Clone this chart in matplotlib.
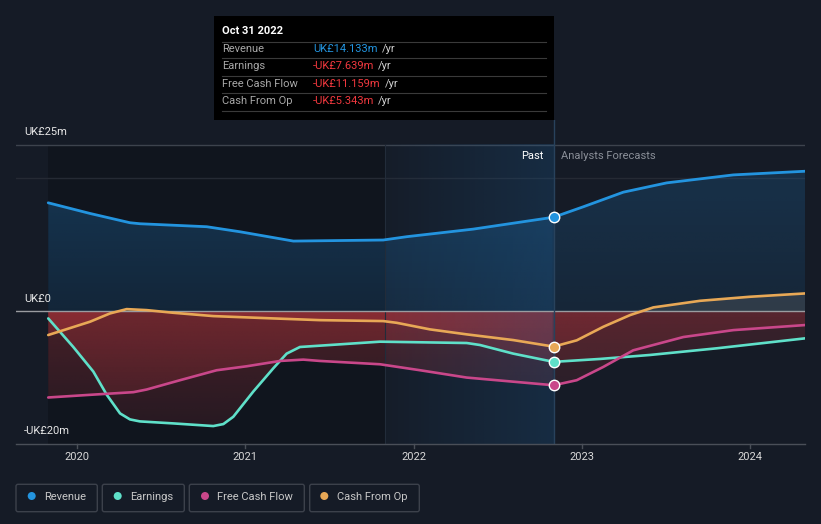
import numpy as np
import matplotlib
matplotlib.use('Agg')
import matplotlib.pyplot as plt
from matplotlib.colors import to_rgb
from matplotlib.patches import FancyBboxPatch, Rectangle, Circle

plt.rcParams['font.family'] = ['Roboto', 'DejaVu Sans']

# ---------------- data (UK£ m, decimal years) ----------------
rev_x = [2019.829, 2020.077, 2020.315, 2020.374, 2020.771, 2020.969, 2021.286, 2021.820,
         2021.960, 2022.355, 2022.833, 2023.009, 2023.247, 2023.505, 2023.901, 2024.327]
rev_y = [16.3, 14.7, 13.3, 13.15, 12.7, 11.94, 10.54, 10.7,
         11.2, 12.34, 14.133, 15.7, 17.9, 19.3, 20.5, 21.05]

earn_x = [2019.829, 2019.978, 2020.097, 2020.177, 2020.256, 2020.315, 2020.374, 2020.572,
          2020.810, 2020.870, 2020.929, 2021.048, 2021.167, 2021.246, 2021.325, 2021.504,
          2021.801, 2022.316, 2022.395, 2022.593, 2022.833, 2023.108, 2023.406, 2023.802, 2024.327]
earn_y = [-1.1, -5.4, -9.1, -12.6, -15.4, -16.3, -16.6, -16.9,
          -17.3, -17.0, -15.9, -12.1, -8.6, -6.4, -5.4, -5.1,
          -4.6, -4.8, -5.1, -6.4, -7.639, -7.2, -6.6, -5.6, -4.1]

fcf_x = [2019.829, 2020.077, 2020.335, 2020.414, 2020.612, 2020.830, 2021.009, 2021.207,
         2021.345, 2021.444, 2021.801, 2022.039, 2022.316, 2022.833, 2022.970, 2023.128,
         2023.306, 2023.604, 2023.901, 2024.327]
fcf_y = [-13.0, -12.6, -12.2, -11.8, -10.4, -8.9, -8.3, -7.5,
         -7.3, -7.5, -8.0, -8.9, -10.0, -11.159, -10.4, -8.4,
         -5.9, -3.9, -2.86, -2.1]

cfo_x = [2019.829, 2020.077, 2020.196, 2020.295, 2020.414, 2020.572, 2020.810, 2021.167,
         2021.444, 2021.820, 2021.900, 2022.098, 2022.316, 2022.593, 2022.833, 2022.970,
         2023.128, 2023.287, 2023.426, 2023.703, 2024.000, 2024.327]
cfo_y = [-3.6, -1.6, -0.35, 0.3, 0.15, -0.25, -0.75, -1.1,
         -1.36, -1.5, -1.76, -2.75, -3.5, -4.36, -5.343, -4.4,
         -2.36, -0.6, 0.56, 1.55, 2.16, 2.66]

past_date = 2022.833
series = [
    ("Revenue", rev_x, rev_y, "#2394df"),
    ("Earnings", earn_x, earn_y, "#5fe0c9"),
    ("Free Cash Flow", fcf_x, fcf_y, "#c9478a"),
    ("Cash From Op", cfo_x, cfo_y, "#e8a856"),
]
tooltip_title = "Oct 31 2022"
tooltip_vals = ["UK£14.133m", "-UK£7.639m", "-UK£11.159m", "-UK£5.343m"]
year_ticks = [2020, 2021, 2022, 2023, 2024]
y_labels = [(25, "UK£25m"), (0, "UK£0"), (-20, "-UK£20m")]

# ---------------- layout ----------------
W, H = 821, 524
BG = "#151b26"
FS = 8
fig = plt.figure(figsize=(W / 100, H / 100), dpi=100)
fig.patch.set_facecolor(BG)

def fx(x): return x / W
def fy(y): return 1 - y / H

pxm = (444 - 145) / 45.0
ytop = 25 + (145 - 120) / pxm
pxy = (750 - 77) / 4.0
x0 = 2020 - (77 - 16) / pxy
x1 = 2020 + (805 - 77) / pxy

ax = fig.add_axes([fx(16), fy(444), fx(805) - fx(16), fy(120) - fy(444)])
ax.set_facecolor(BG)
ax.set_xlim(x0, x1)
ax.set_ylim(-20, ytop)
for s in ax.spines.values():
    s.set_visible(False)
ax.set_xticks([]); ax.set_yticks([])

band_start = past_date - 1.0
# darker past region (below the top gridline)
ax.fill_between([rev_x[0], band_start], -20, 25, color="black", alpha=0.2, lw=0, zorder=0)

# grid lines
ax.axhline(25, color="#3d434d", lw=1, zorder=1)
ax.axhline(20, color="#252a34", lw=1, zorder=1)

nx, ny = 400, 300
gx = np.linspace(x0, x1, nx)
past_factor = np.where(gx <= past_date, 1.0, 0.7)

# Revenue positive fill
poly = ax.fill_between(rev_x, 0, rev_y, facecolor='none', edgecolor='none')
gy = np.linspace(0, ytop, ny)
img = np.zeros((ny, nx, 4))
img[..., :3] = to_rgb("#1f6aa5")
a = np.clip(0.2 + 0.15 * gy / 16.0, 0, 0.36)
img[..., 3] = a[:, None] * np.where(gx <= past_date, 1.0, 0.72)[None, :]
im = ax.imshow(img, extent=[x0, x1, 0, ytop], aspect='auto', origin='lower', zorder=2,
               interpolation='bilinear')
im.set_clip_path(poly.get_paths()[0], ax.transData)

# negative / positive fills for other series
gyn = np.linspace(-20, 0, ny)
an = 0.1 + 0.2 * (gyn + 20) / 20.0
for name, xs, ys, col in series[1:]:
    yarr = np.asarray(ys)
    pneg = ax.fill_between(xs, 0, np.minimum(yarr, 0), facecolor='none', edgecolor='none')
    img = np.zeros((ny, nx, 4))
    img[..., :3] = to_rgb("#c8393f")
    img[..., 3] = an[:, None] * past_factor[None, :]
    im = ax.imshow(img, extent=[x0, x1, -20, 0], aspect='auto', origin='lower', zorder=2,
                   interpolation='bilinear')
    im.set_clip_path(pneg.get_paths()[0], ax.transData)
    if (yarr > 0).any():
        ax.fill_between(xs, 0, np.maximum(yarr, 0), facecolor="#7a7a7a", alpha=0.25,
                        lw=0, zorder=2)

# highlighted band (blue gradient) over the fills
ng = 200
grad = np.zeros((2, ng, 4))
grad[..., :3] = to_rgb("#1c5e96")
grad[..., 3] = np.linspace(0.03, 0.26, ng)[None, :]
ax.imshow(grad, extent=[band_start, past_date, -20, 25], aspect='auto',
          origin='lower', zorder=2.5, interpolation='bilinear')
ax.plot([band_start, band_start], [-20, 25], color="#222c3a", lw=0.8, zorder=2.6)

# zero line
ax.axhline(0, color="#9a9ca0", lw=1, zorder=3)

# lines
for name, xs, ys, col in series:
    ax.plot(xs, ys, color=col, lw=2.0 if name == "Revenue" else 1.9, zorder=4,
            solid_capstyle='round', solid_joinstyle='round')

# past vertical line
ax.plot([past_date, past_date], [-20, ytop], color="#28425c", lw=1, zorder=3.5)

# markers
for name, xs, ys, col in series:
    v = ys[xs.index(past_date)]
    ax.plot([past_date], [v], 'o', ms=7.5, color=col, mec="white", mew=1, zorder=5)

# ---------------- overlay in pixel coordinates ----------------
ov = fig.add_axes([0, 0, 1, 1])
ov.set_xlim(0, W); ov.set_ylim(H, 0)
ov.axis('off')
ov.patch.set_alpha(0)

# bottom axis line & ticks
ov.plot([16, 805], [444, 444], color="#4a4f58", lw=1)
for yr in year_ticks:
    px = 77 + (yr - 2020) * pxy
    ov.plot([px, px], [444, 448], color="#4a4f58", lw=1)
    ov.text(px, 457, str(yr), color="#d8d8d8", fontsize=FS, ha='center', va='center')

for v, lab in y_labels:
    py = 311 - v * pxm
    ov.text(24, py - 12.5, lab, color="#e6e6e6", fontsize=FS, ha='left', va='center')

ov.text(544, 156, "Past", color="#ffffff", fontsize=FS, ha='right', va='center')
ov.text(561, 156, "Analysts Forecasts", color="#8a8f98", fontsize=FS, ha='left', va='center')

# tooltip
ov.add_patch(Rectangle((214, 15.5), 554 - 214, 120 - 15.5, facecolor="#000000", edgecolor='none'))
ov.text(222, 31, tooltip_title, color="white", fontsize=FS, fontweight='bold', ha='left', va='center')
for sy in [41.5, 58.3, 76.3, 93.3, 111]:
    ov.plot([222, 546], [sy, sy], color="#3a3a3a", lw=0.8)
rows_y = [49.3, 66.3, 84, 101]
fig.canvas.draw()
renderer = fig.canvas.get_renderer()
for (name, xs, ys, col), val, ry in zip(series, tooltip_vals, rows_y):
    ov.text(222, ry, name, color="#a8a8a8", fontsize=FS, ha='left', va='center')
    vcol = "#2394df" if not val.startswith('-') else "#f0383e"
    t = ov.text(313, ry, val, color=vcol, fontsize=FS, ha='left', va='center')
    bb = t.get_window_extent(renderer=renderer)
    ov.text(bb.x1 + 4, ry, "/yr", color="#d0d0d0", fontsize=FS, ha='left', va='center')

# legend
boxes = [(16, 97.3, 31.7, 44.3), (102.3, 184.3, 117.7, 130), (189.3, 304.3, 205, 217.3),
         (309.7, 419.3, 324.3, 337.3)]
for (name, xs, ys, col), (bx0, bx1, dx, tx) in zip(series, boxes):
    ov.add_patch(FancyBboxPatch((bx0, 484.3), bx1 - bx0, 511.7 - 484.3,
                                boxstyle="round,pad=0,rounding_size=2",
                                facecolor='none', edgecolor="#3c414b", lw=1))
    ov.add_patch(Circle((dx, 496), 4, facecolor=col, edgecolor='none'))
    ov.text(tx, 496.5, name, color="#c8c8c8", fontsize=FS, ha='left', va='center')

fig.savefig("out.png", dpi=100, facecolor=BG)
